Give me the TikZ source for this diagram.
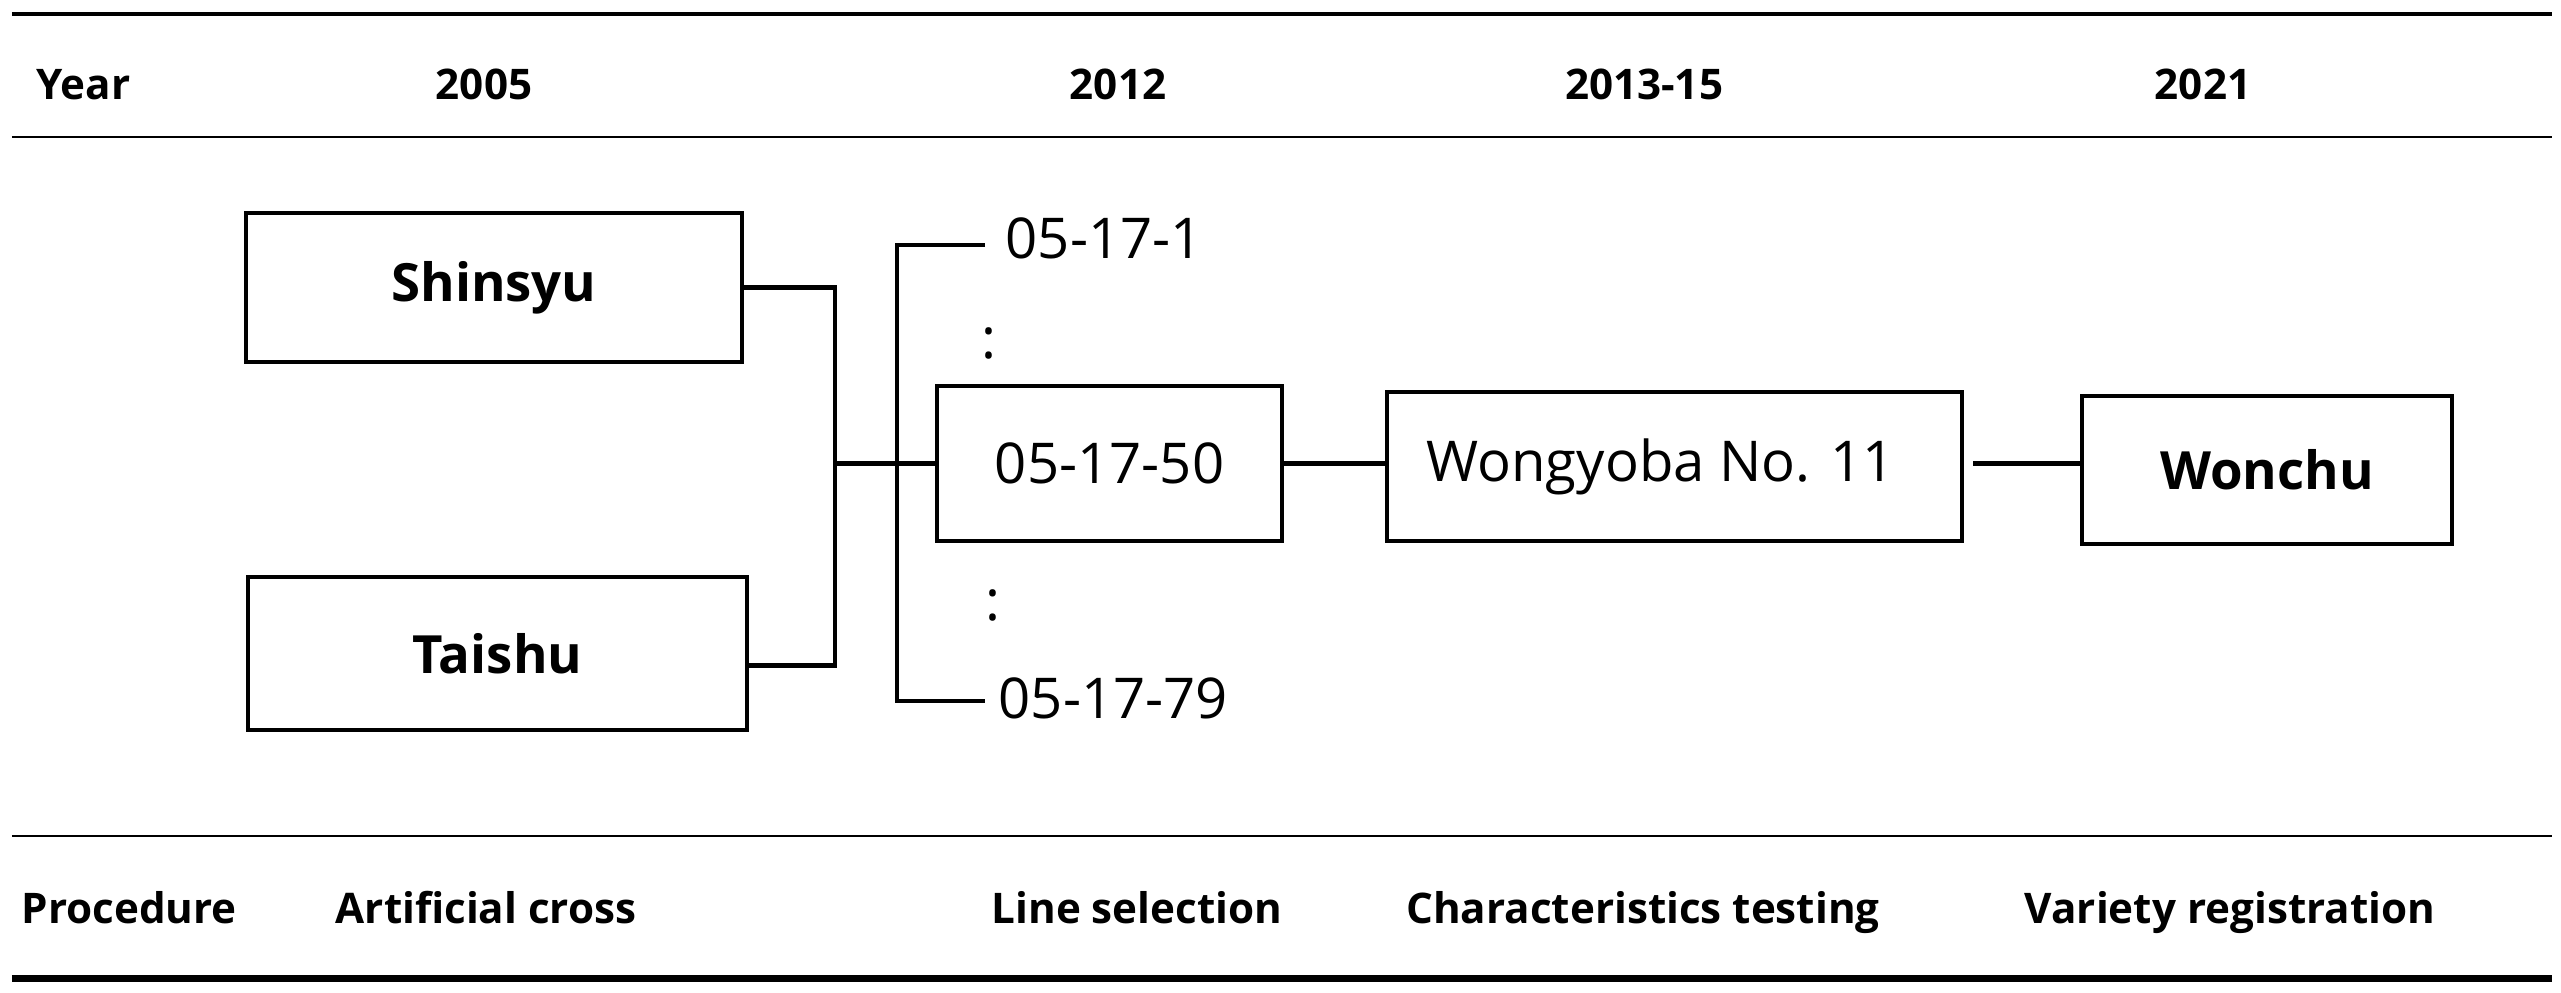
\documentclass[tikz,border=0pt]{standalone}
\usepackage{fontspec}
\setmainfont{Open Sans}
\begin{document}
\begin{tikzpicture}[node distance=2.0cm,
  box/.style={draw,line width=1.4pt,inner sep=0pt,font=\fontsize{16}{19}\selectfont},
  bbox/.style={box,font=\fontsize{15}{18}\selectfont\bfseries},
  hd/.style={inner sep=0pt,anchor=base,font=\fontsize{12}{14}\selectfont\bfseries},
  lbl/.style={inner sep=0pt,font=\fontsize{16}{19}\selectfont},
  link/.style={line width=1.4pt}]
\useasboundingbox (0,0) rectangle (25.61,-9.92);
\draw[line width=1.4pt] (0.12,-0.14)--(25.52,-0.14);
\draw[line width=0.7pt] (0.12,-1.37)--(25.52,-1.37);
\draw[line width=0.7pt] (0.12,-8.36)--(25.52,-8.36);
\draw[line width=2pt] (0.12,-9.78)--(25.52,-9.78);
\node[hd,anchor=base west] (year) at (0.36,-0.99) {Year};
\node[hd] (y05) at (4.84,-0.99) {2005};
\node[hd] (y12) at (11.18,-0.99) {2012};
\node[hd] (y13) at (16.44,-0.99) {2013-15};
\node[hd] (y21) at (22.03,-0.99) {2021};
\node[hd,anchor=base west] (proc) at (0.21,-9.23) {Procedure};
\node[hd] (cross) at (4.86,-9.23) {Artificial cross};
\node[hd] (sel) at (11.37,-9.23) {Line selection};
\node[hd] (test) at (16.43,-9.23) {Characteristics testing};
\node[hd] (reg) at (22.30,-9.23) {Variety registration};
\node[bbox,minimum width=4.96cm,minimum height=1.49cm] (sh) at (4.94,-2.875) {Shinsyu};
\node[bbox,minimum width=4.99cm,minimum height=1.53cm] (ta) at (4.975,-6.535) {Taishu};
\node[box,minimum width=3.45cm,minimum height=1.55cm] (l50) at (11.095,-4.635) {05-17-50};
\node[box,minimum width=5.75cm,minimum height=1.49cm] (wg) at (16.745,-4.665) {Wongyoba No. 11\hspace*{0.28cm}};
\node[bbox,minimum width=3.70cm,minimum height=1.48cm] (wc) at (22.67,-4.70) {Wonchu};
\node[lbl,anchor=west] (l1) at (10.05,-2.38) {05-17-1};
\node[lbl,anchor=west] (l79) at (9.98,-6.98) {05-17-79};
\node[lbl] (d1) at (9.89,-3.43) {:};
\node[lbl] (d2) at (9.93,-6.05) {:};
\coordinate (jn) at (8.35,-4.635);
\coordinate (sp) at (8.97,-4.635);
\path (wg.east |- l50.east) ++(0.09,0) coordinate (wgr);
\draw[link] (sh.east) -| (jn);\draw[link] ([yshift=-0.12cm]ta.east) -| (jn);\draw[link] (jn) -- (l50.west);
\draw[link] ([shift={(-0.2,-0.07)}]l1.west) -| (sp) |- ([shift={(-0.13,-0.03)}]l79.west);
\draw[link] (l50.east) -- (l50.east -| wg.west);\draw[link] (wgr) -- (wgr -| wc.west);
\end{tikzpicture}
\end{document}
